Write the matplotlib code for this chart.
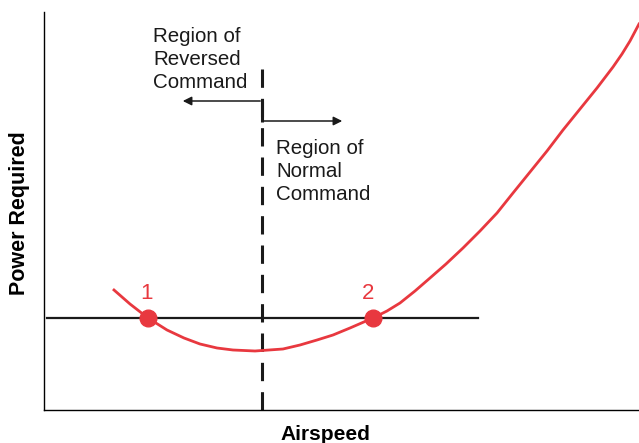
import matplotlib.pyplot as plt

plt.rcParams["font.family"] = ["Liberation Sans", "DejaVu Sans"]

RED = "#e8383f"
INK = "#1a1a1a"

# power-required curve (x = airspeed, y = power, screen units)
curve_x = [114, 130, 148, 167, 184, 200, 217, 233, 255, 283, 300, 317, 333, 350, 373, 387,
           400, 415, 430, 446, 463, 480, 497, 513, 530, 547, 563, 580, 597, 613, 622, 630, 639]
curve_y = [290, 304, 318, 330, 338, 344, 348, 350, 351, 349, 345, 340, 335, 328, 318, 311,
           303, 291, 278, 264, 248, 231, 213, 193, 172, 151, 130, 109, 88, 67, 54, 41, 24]

# constant power line and the two intersections
power_level = 318
power_span = [47, 478]
point_x = [148, 373]
point_labels = ["1", "2"]
label_x = [147, 368]

# boundary between reversed and normal command
boundary_x = 262

fig = plt.figure(figsize=(6.39, 4.43), dpi=100)
ax = fig.add_axes([44 / 639, 33 / 443, 595 / 639, 398 / 443])
ax.set_xlim(44, 639)
ax.set_ylim(410, 12)
ax.spines[["top", "right"]].set_visible(False)
ax.spines[["left", "bottom"]].set_linewidth(1.0)
ax.set_xticks([])
ax.set_yticks([])

ax.plot(power_span, [power_level, power_level], color=INK, lw=1.6, zorder=2)
ax.plot(curve_x, curve_y, color=RED, lw=2.0, clip_on=False, zorder=3,
        solid_joinstyle="round")
ax.plot(point_x, [power_level] * 2, "o", color=RED, ms=12, zorder=4)
for x, lab in zip(label_x, point_labels):
    ax.text(x, 299, lab, color=RED, fontsize=16, ha="center", va="baseline")

# dashed boundary with a solid kink for the arrows
dash, = ax.plot([boundary_x, boundary_x], [69, 410], color=INK, lw=2.2, zorder=2)
dash.set_dashes((6.0, 3.6))
ax.plot([boundary_x, boundary_x], [101, 122], color=INK, lw=2.2, solid_capstyle="butt")
ax.annotate("", xy=(180, 101), xytext=(boundary_x + 1, 101),
            arrowprops=dict(arrowstyle="-|>", color=INK, lw=1.1, mutation_scale=13))
ax.annotate("", xy=(345, 121), xytext=(boundary_x - 1, 121),
            arrowprops=dict(arrowstyle="-|>", color=INK, lw=1.1, mutation_scale=13))

ax.text(153, 88, "Region of\nReversed\nCommand", fontsize=14.8, ha="left", va="baseline",
        color=INK, linespacing=1.26)
ax.text(276, 200, "Region of\nNormal\nCommand", fontsize=14.8, ha="left", va="baseline",
        color=INK, linespacing=1.26)

fig.text(20 / 639, 1 - 213 / 443, "Power Required", rotation=90, fontsize=15.5,
         fontweight="bold", ha="center", va="center")
fig.text(325 / 639, 1 - 434 / 443, "Airspeed", fontsize=15, fontweight="bold",
         ha="center", va="center")

fig.savefig("out.png", dpi=100)
